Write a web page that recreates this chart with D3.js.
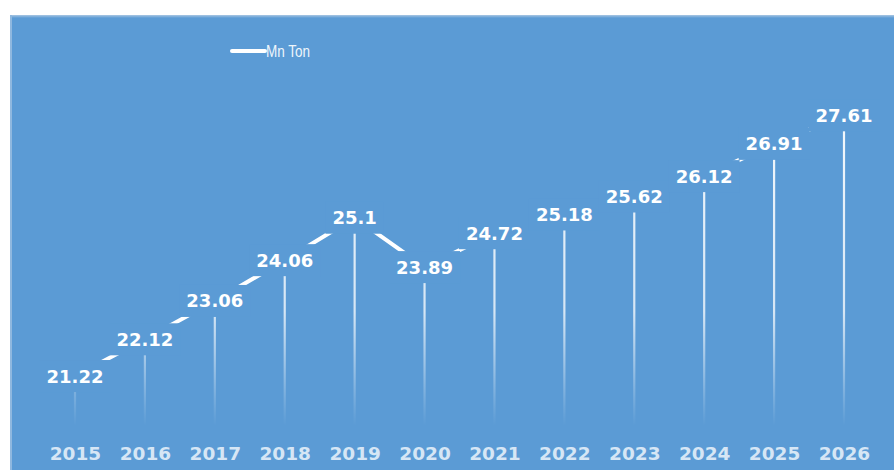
<!DOCTYPE html>
<html>
<head>
<meta charset="utf-8">
<script src="https://cdn.jsdelivr.net/npm/d3@7/dist/d3.min.js"></script>
<style>
  html, body { margin: 0; padding: 0; background: #ffffff; }
  svg { display: block; }
</style>
</head>
<body>
<svg id="chart" width="894" height="470"></svg>
<script>
// Annual volume, million tonnes
const years = ["2015", "2016", "2017", "2018", "2019", "2020", "2021", "2022", "2023", "2024", "2025", "2026"];
const volumes = [21.22, 22.12, 23.06, 24.06, 25.1, 23.89, 24.72, 25.18, 25.62, 26.12, 26.91, 27.61];
const seriesName = "Mn Ton";

const W = 894, H = 470;
const bg = "#5b9bd5";
const svg = d3.select("#chart");

// Chart area panel
const panel = { x: 11, y: 15, w: W - 11, h: H - 15 };
const defs = svg.append("defs");

const edge = defs.append("linearGradient").attr("id", "topEdge")
  .attr("x1", 0).attr("y1", 0).attr("x2", 0).attr("y2", 1);
edge.append("stop").attr("offset", 0).attr("stop-color", "#a9c6e2");
edge.append("stop").attr("offset", 1).attr("stop-color", bg);

svg.append("rect").attr("x", panel.x).attr("y", panel.y)
  .attr("width", panel.w).attr("height", panel.h).attr("fill", bg);
svg.append("rect").attr("x", panel.x).attr("y", panel.y)
  .attr("width", panel.w).attr("height", 3).attr("fill", "url(#topEdge)");
svg.append("rect").attr("x", panel.x - 1).attr("y", panel.y)
  .attr("width", 2).attr("height", panel.h).attr("fill", "#8fb8df");

// Scales
const plot = { top: 99.4, bottom: 425.8 };
const x = d3.scalePoint().domain(years).range([75, 844]);
const y = d3.scaleLinear().domain([20, 28]).range([plot.bottom, plot.top]);

const data = years.map((yr, i) => ({ year: yr, value: volumes[i] }));

// Drop lines fading towards the category axis
const fade = defs.append("linearGradient").attr("id", "dropFade")
  .attr("gradientUnits", "userSpaceOnUse")
  .attr("x1", 0).attr("y1", plot.top).attr("x2", 0).attr("y2", plot.bottom);
fade.append("stop").attr("offset", 0).attr("stop-color", "#ffffff").attr("stop-opacity", 0.95);
fade.append("stop").attr("offset", 0.65).attr("stop-color", "#ffffff").attr("stop-opacity", 0.75);
fade.append("stop").attr("offset", 0.9).attr("stop-color", "#ffffff").attr("stop-opacity", 0.2);
fade.append("stop").attr("offset", 1).attr("stop-color", "#ffffff").attr("stop-opacity", 0);

svg.append("g").selectAll("line").data(data).join("line")
  .attr("x1", d => x(d.year)).attr("x2", d => x(d.year))
  .attr("y1", d => y(d.value)).attr("y2", plot.bottom)
  .attr("stroke", "url(#dropFade)").attr("stroke-width", 2.2);

// Series line
const line = d3.line().x(d => x(d.year)).y(d => y(d.value));
svg.append("path").datum(data)
  .attr("d", line)
  .attr("fill", "none")
  .attr("stroke", "#ffffff")
  .attr("stroke-width", 4)
  .attr("stroke-linejoin", "round");

// Data labels centred on the points, on a panel-coloured box
const labels = svg.append("g").selectAll("g").data(data).join("g")
  .attr("transform", d => `translate(${x(d.year)},${y(d.value)})`);
labels.append("text")
  .attr("text-anchor", "middle")
  .attr("dy", "0.36em")
  .attr("font-family", "'DejaVu Sans', Verdana, sans-serif")
  .attr("font-weight", "bold")
  .attr("font-size", 18)
  .attr("fill", "#ffffff")
  .text(d => String(d.value));
labels.each(function() {
  const g = d3.select(this);
  const bb = g.select("text").node().getBBox();
  g.insert("rect", "text")
    .attr("x", bb.x - 7).attr("y", -16)
    .attr("width", bb.width + 14).attr("height", 32)
    .attr("fill", bg);
});

// Category axis
const xAxis = svg.append("g")
  .attr("transform", `translate(0,${plot.bottom})`)
  .call(d3.axisBottom(x).tickSize(0).tickPadding(0));
xAxis.select(".domain").remove();
xAxis.selectAll("text")
  .attr("dy", null)
  .attr("y", 34)
  .attr("font-family", "'DejaVu Sans', Verdana, sans-serif")
  .attr("font-weight", "bold")
  .attr("font-size", 18.5)
  .attr("fill", "#d6e6f5");

// Legend
const legend = svg.append("g").attr("transform", "translate(232,51)");
legend.append("line").attr("x1", 0).attr("x2", 33).attr("y1", 0).attr("y2", 0)
  .attr("stroke", "#ffffff").attr("stroke-width", 4).attr("stroke-linecap", "round");
legend.append("text")
  .attr("transform", "translate(34,6) scale(0.82,1)")
  .attr("font-family", "'Liberation Sans', Arial, sans-serif")
  .attr("font-size", 16.5)
  .attr("fill", "#eef5fb")
  .text(seriesName);
</script>
</body>
</html>
